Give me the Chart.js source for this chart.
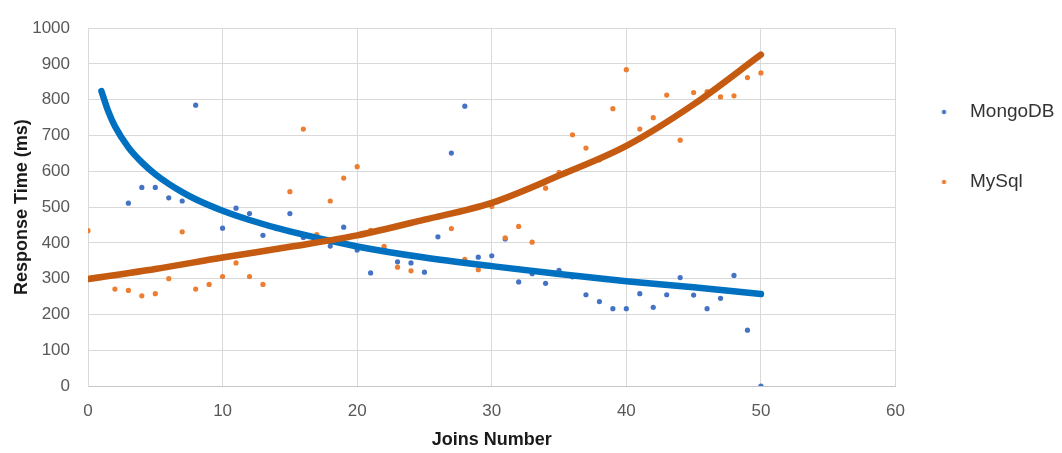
<!DOCTYPE html>
<html>
<head>
<meta charset="utf-8">
<style>
  html, body { margin: 0; padding: 0; background: #ffffff; }
  #wrap { width: 1062px; height: 453px; }
</style>
<script src="https://cdn.jsdelivr.net/npm/chart.js@4/dist/chart.umd.min.js"></script>
</head>
<body>
<div id="wrap"><canvas id="c" width="1062" height="453"></canvas></div>
<script>
// ---- data ----
const joinsMongo = [1,2,3,4,5,6,7,8,9,10,11,12,13,14,15,16,17,18,19,20,21,22,23,24,25,26,27,28,29,30,31,32,33,34,35,36,37,38,39,40,41,42,43,44,45,46,47,48,49,50];
const mongoTimes = [824,728,511,555,555,526,517,785,505,441,497,482,421,440,482,415,405,391,444,380,316,382,347,344,318,417,651,782,360,364,411,291,314,287,323,305,255,236,216,216,258,220,255,303,254,216,245,309,156,0];

const joinsMysql = [0,1,2,3,4,5,6,7,8,9,10,11,12,13,14,15,16,17,18,19,20,21,22,23,24,25,26,27,28,29,30,31,32,33,34,35,36,37,38,39,40,41,42,43,44,45,46,47,48,49,50];
const mysqlTimes = [434,303,271,267,252,258,300,431,271,284,306,344,306,284,383,543,718,423,517,581,613,435,390,332,322,465,475,440,354,325,502,414,446,402,553,597,702,665,632,775,884,718,750,813,687,820,823,808,811,862,875];

// trend lines, values
const mongoTrendX = [1,1.5,2,3,4,5,6,7,8,10,12,15,20,25,30,35,40,45,50];
const mongoTrendY = [824,768,726,667,625,592,565,542,522,490,464,432,390,359,335,313,293,276,257];
const mysqlTrendX = [0,5,10,15,20,25,30,35,40,45,50];
const mysqlTrendY = [299,327,359,389,421,465,512,588,671,787,926];

const seriesNames = ['MongoDB', 'MySql'];
const xTicks = [0,10,20,30,40,50,60];
const yTicks = [0,100,200,300,400,500,600,700,800,900,1000];

const toPts = (xs, ys) => xs.map((x, i) => ({x: x, y: ys[i]}));

function dotImage(color) {
  const cv = document.createElement('canvas');
  cv.width = 30; cv.height = 6;
  const g = cv.getContext('2d');
  g.fillStyle = color;
  g.beginPath();
  g.arc(5.5, 3, 2.2, 0, Math.PI * 2);
  g.fill();
  return cv;
}
const legendDots = [dotImage('#4472C4'), dotImage('#ED7D31')];

const FONT = '"Liberation Sans", Arial, sans-serif';

new Chart(document.getElementById('c'), {
  type: 'scatter',
  data: {
    datasets: [
      { label: seriesNames[0], data: toPts(joinsMongo, mongoTimes), backgroundColor: '#4472C4', borderColor: '#4472C4', pointRadius: 2.6, pointHoverRadius: 2.6, borderWidth: 0, order: 3 },
      { label: seriesNames[1], data: toPts(joinsMysql, mysqlTimes), backgroundColor: '#ED7D31', borderColor: '#ED7D31', pointRadius: 2.6, pointHoverRadius: 2.6, borderWidth: 0, order: 2 },
      { label: 'MongoDB trend', data: toPts(mongoTrendX, mongoTrendY), showLine: true, borderColor: '#0070C0', backgroundColor: '#0070C0', borderWidth: 6.5, pointRadius: 0, cubicInterpolationMode: 'monotone', borderCapStyle: 'round', borderJoinStyle: 'round', order: 1 },
      { label: 'MySql trend', data: toPts(mysqlTrendX, mysqlTrendY), showLine: true, borderColor: '#C55A11', backgroundColor: '#C55A11', borderWidth: 6.5, pointRadius: 0, cubicInterpolationMode: 'monotone', borderCapStyle: 'round', borderJoinStyle: 'round', order: 0 }
    ]
  },
  options: {
    responsive: false,
    animation: false,
    devicePixelRatio: 1,
    layout: { padding: { top: 18.3, left: 0, right: 0, bottom: 0 } },
    plugins: {
      tooltip: { enabled: false },
      legend: {
        position: 'right',
        align: 'start',
        maxWidth: 166.5,
        title: { display: true, text: '', font: { size: 12 }, padding: { top: 18.8, bottom: 0 } },
        labels: {
          usePointStyle: true,
          boxWidth: 14,
          padding: 51,
          color: '#333333',
          font: { family: FONT, size: 19 },
          generateLabels: function(chart) {
            const items = Chart.defaults.plugins.legend.labels.generateLabels(chart);
            return items
              .filter(it => it.datasetIndex < 2)
              .sort((a, b) => a.datasetIndex - b.datasetIndex)
              .map(it => { it.pointStyle = legendDots[it.datasetIndex]; return it; });
          }
        }
      }
    },
    scales: {
      x: {
        type: 'linear',
        min: 0, max: 60,
        afterBuildTicks: (s) => { s.ticks = xTicks.map(v => ({value: v})); },
        afterFit: (s) => { s.height = 67; },
        grid: { color: '#D9D9D9', lineWidth: 1, drawTicks: false },
        border: { display: true, color: '#C6C6C6', width: 1 },
        ticks: { color: '#595959', padding: 15, font: { family: FONT, size: 17 }, callback: (v) => String(v) },
        title: { display: true, text: 'Joins Number', color: '#1a1a1a', font: { family: FONT, size: 18, weight: 'bold' }, padding: { top: 2, bottom: 2.2 } }
      },
      y: {
        type: 'linear',
        min: 0, max: 1000,
        afterBuildTicks: (s) => { s.ticks = yTicks.map(v => ({value: v})); },
        afterFit: (s) => { s.width = 88; },
        grid: { color: '#D9D9D9', lineWidth: 1, drawTicks: false },
        border: { display: true, color: '#D9D9D9', width: 1 },
        ticks: { color: '#595959', padding: 18, font: { family: FONT, size: 17 }, callback: (v) => String(v) },
        title: { display: true, text: 'Response Time (ms)', color: '#1a1a1a', font: { family: FONT, size: 18, weight: 'bold' }, padding: { top: 11, bottom: 11 } }
      }
    }
  }
});
</script>
</body>
</html>
